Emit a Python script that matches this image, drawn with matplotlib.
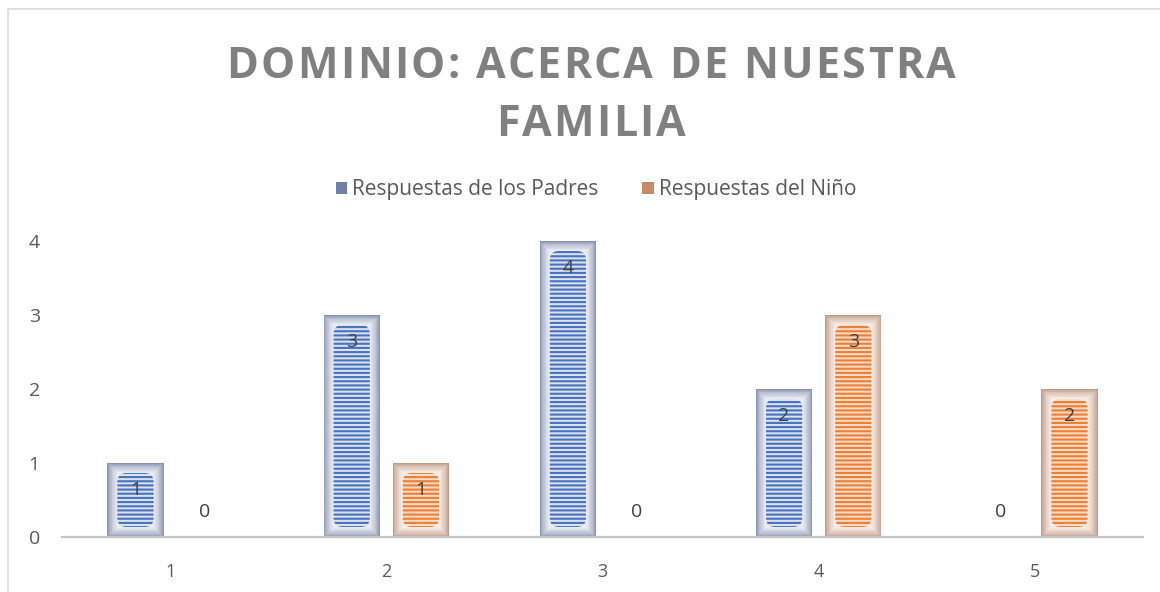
import numpy as np
import matplotlib
matplotlib.use("Agg")
import matplotlib.pyplot as plt
from matplotlib.patches import FancyBboxPatch, Patch, Rectangle
from matplotlib.colors import to_rgb

# ---------------- data ----------------
categories = ["1", "2", "3", "4", "5"]
padres = [1, 3, 4, 2, 0]
nino = [0, 1, 0, 3, 2]
series_names = ["Respuestas de los Padres", "Respuestas del Niño"]
title_lines = ["DOMINIO: ACERCA DE NUESTRA", "FAMILIA"]
yticks = [0, 1, 2, 3, 4]

FONT = "Open Sans"
plt.rcParams["font.family"] = [FONT, "DejaVu Sans"]
plt.rcParams["hatch.linewidth"] = 1.5

W, H = 1160, 592
fig = plt.figure(figsize=(W / 100, H / 100), dpi=100)
fig.patch.set_facecolor("white")

# outer chart border (top and left visible)
fig.add_artist(Rectangle((8 / W, 0 - 0.05), 1.1, (H - 9) / H + 0.05, transform=fig.transFigure,
                         fill=False, edgecolor="#d9d9d9", linewidth=1.2))

ax_l, ax_r, ax_b, ax_t = 62, 1143, 537, 241
ax = fig.add_axes([ax_l / W, 1 - ax_b / H, (ax_r - ax_l) / W, (ax_b - ax_t) / H])
ax.set_xlim(-0.5, len(categories) - 0.5)
ax.set_ylim(0, 4)
for s in ["left", "right", "top"]:
    ax.spines[s].set_visible(False)
ax.spines["bottom"].set_color("#c4c4c4")
ax.spines["bottom"].set_linewidth(1.6)
ax.spines["bottom"].set_zorder(10)
ax.set_facecolor("none")

x = np.arange(len(categories))
bw = 0.26
off = 0.16

px_x = (ax_r - ax_l) / len(categories)   # pixels per x unit
px_y = (ax_b - ax_t) / 4.0              # pixels per y unit

styles = [
    dict(edge="#8794b4", glow="#e9ebf0", stripe="#4472c4", gap="#dde1e8", legend="#6f80ad"),
    dict(edge="#c09c86", glow="#f4ece6", stripe="#ed7d31", gap="#f8dcc8", legend="#c98a63"),
]

def mix(c1, c2, t):
    a, b = np.array(to_rgb(c1)), np.array(to_rgb(c2))
    return tuple(a + (b - a) * t)

n_layers = 12
inset_px = 10
for si, (vals, sgn) in enumerate([(padres, -1), (nino, 1)]):
    st = styles[si]
    pos = x + sgn * off
    for xi, v in zip(pos, vals):
        if v <= 0:
            continue
        # gradient frame
        for k in range(n_layers):
            t = k / (n_layers - 1)
            ins = inset_px * k / n_layers
            dx = ins / px_x
            dy = ins / px_y
            ax.bar(xi, v - 2 * dy, width=bw - 2 * dx, bottom=dy,
                   color=mix(st["edge"], st["glow"], t ** 0.7), linewidth=0, zorder=2 + k * 0.01)
        # striped inner rounded region
        dx = inset_px / px_x
        dy = inset_px / px_y
        r = 9
        p = FancyBboxPatch((xi - bw / 2 + dx, dy), bw - 2 * dx, v - 2 * dy,
                           boxstyle=f"round,pad=0,rounding_size={r / px_x}",
                           mutation_aspect=px_x / px_y,
                           facecolor=st["gap"], edgecolor=st["stripe"], linewidth=0,
                           hatch="----", zorder=3)
        ax.add_patch(p)

# data labels
label_color = "#404040"
for vals, sgn in [(padres, -1), (nino, 1)]:
    for xi, v in zip(x + sgn * off, vals):
        if v > 0:
            ax.annotate(str(v), (xi, v), xytext=(0, -27), textcoords="offset pixels",
                        ha="center", va="center", fontsize=14, color=label_color, zorder=5)
        else:
            ax.annotate(str(v), (xi, v), xytext=(0, 25), textcoords="offset pixels",
                        ha="center", va="center", fontsize=14, color=label_color, zorder=5)

ax.set_xticks(x)
ax.set_xticklabels(categories, fontsize=13, color="#595959")
ax.set_yticks(yticks)
ax.set_yticklabels([str(t) for t in yticks], fontsize=14, color="#595959")
ax.tick_params(axis="x", length=0, pad=19)
ax.tick_params(axis="y", length=0, pad=16)

# legend
handles = [Patch(facecolor=styles[i]["legend"], edgecolor="none") for i in range(2)]
fig.legend(handles, series_names, loc="center", bbox_to_anchor=(596 / W, 1 - 190 / H),
           ncol=2, frameon=False, fontsize=15, labelcolor="#595959",
           handlelength=0.55, handleheight=0.55, handletextpad=0.25, columnspacing=2.1)

# title with letter spacing
renderer = fig.canvas.get_renderer()
tfs = 31
tcolor = "#808080"

def prefix_widths(s):
    ws = []
    for i in range(len(s) + 1):
        if i == 0:
            ws.append(0.0)
            continue
        t = fig.text(0, 0, s[:i].replace(" ", "\u00a0"), fontsize=tfs, fontweight="bold")
        ws.append(t.get_window_extent(renderer).width)
        t.remove()
    return ws

pw1 = prefix_widths(title_lines[0])
target = 957 - 228
tracking = (target - pw1[-1]) / (len(title_lines[0]) - 1)
centers_y = [62, 119]
for line, cy in zip(title_lines, centers_y):
    pw = pw1 if line == title_lines[0] else prefix_widths(line)
    total = pw[-1] + tracking * (len(line) - 1)
    x0 = 591 - total / 2
    for i, ch in enumerate(line):
        if ch == " ":
            continue
        fig.text((x0 + pw[i] + tracking * i) / W, 1 - cy / H, ch, fontsize=tfs,
                 fontweight="bold", color=tcolor, ha="left", va="center_baseline")

fig.savefig("out.png", dpi=100)
